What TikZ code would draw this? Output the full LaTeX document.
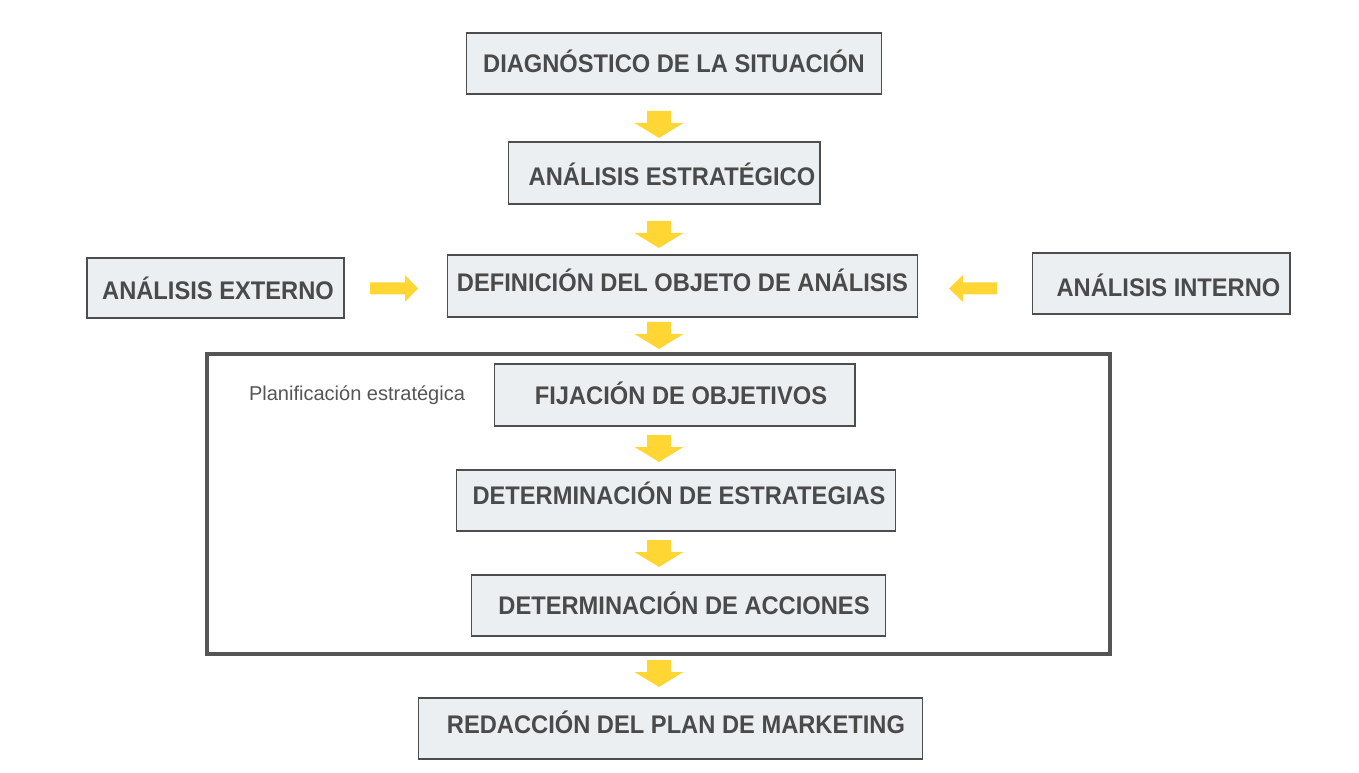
\documentclass[tikz,border=0pt]{standalone}
\usepackage{fontspec}
\setmainfont{Liberation Sans}
\newfontfamily\cajafont[FakeStretch=0.93]{Liberation Sans}
\definecolor{amarillo}{HTML}{FFD633}
\definecolor{fondocaja}{HTML}{ECEFF1}
\definecolor{bordecaja}{HTML}{4D4D4D}
\definecolor{textocaja}{HTML}{4A4A4A}
\definecolor{marcogris}{HTML}{555555}

% flechas amarillas (x centro / y arriba, en px)
\newcommand{\flechaabajo}[2]{\fill[amarillo] (#1-12,#2) -- (#1+12,#2) -- (#1+12,#2+12) -- (#1+24.5,#2+12) -- (#1,#2+27) -- (#1-24.5,#2+12) -- (#1-12,#2+12) -- cycle;}
\newcommand{\flechader}[2]{\fill[amarillo] (#1,#2-6) -- (#1+35,#2-6) -- (#1+35,#2-13.5) -- (#1+48,#2) -- (#1+35,#2+13.5) -- (#1+35,#2+6) -- (#1,#2+6) -- cycle;}
\newcommand{\flechaizq}[2]{\fill[amarillo] (#1,#2) -- (#1+14,#2-13.5) -- (#1+14,#2-6) -- (#1+48,#2-6) -- (#1+48,#2+6) -- (#1+14,#2+6) -- (#1+14,#2+13.5) -- cycle;}

\tikzset{
  caja/.style={draw=bordecaja, line width=0.6pt, fill=fondocaja, text=textocaja,
    font=\cajafont\bfseries\fontsize{14.5}{17}\selectfont, inner sep=0pt,
    text height=10.4pt, text depth=0pt}
}

\begin{document}
\begin{tikzpicture}[x=0.02cm, y=-0.02cm]
    \useasboundingbox (0,0) rectangle (1359,773);
    % marco de la planificacion
    \node[draw=marcogris, line width=2.6pt, minimum width=18.06cm, minimum height=6cm] (marco) at (658.5,504) {};
    \node[font=\fontsize{11.4}{13}\selectfont, text=marcogris] (plan) at (357,395) {Planificación estratégica};
    % cajas
    \node[caja, minimum width=8.32cm, minimum height=1.22cm] (diag) at (674,63.5) {DIAGNÓSTICO DE LA SITUACIÓN};
    \node[caja, minimum width=6.24cm, minimum height=1.24cm] (estr) at (664,173) {\hspace*{0.32cm}\raisebox{-1.7pt}{ANÁLISIS ESTRATÉGICO}};
    \node[caja, minimum width=9.42cm, minimum height=1.24cm] (defi) at (682.5,286) {\raisebox{2.3pt}{DEFINICIÓN DEL OBJETO DE ANÁLISIS}};
    \node[caja, minimum width=5.14cm, minimum height=1.2cm] (exte) at (215.5,288) {\hspace*{0.1cm}\raisebox{-1.1pt}{ANÁLISIS EXTERNO}};
    \node[caja, minimum width=5.16cm, minimum height=1.22cm] (inte) at (1161,283.5) {\hspace*{0.3cm}\raisebox{-2.3pt}{ANÁLISIS INTERNO}};
    \node[caja, minimum width=7.22cm, minimum height=1.24cm] (fija) at (674.5,395) {\hspace*{0.26cm}FIJACIÓN DE OBJETIVOS};
    \node[caja, minimum width=8.8cm, minimum height=1.22cm] (estra) at (676,500.5) {\hspace*{0.12cm}\raisebox{2.8pt}{DETERMINACIÓN DE ESTRATEGIAS}};
    \node[caja, minimum width=8.3cm, minimum height=1.22cm] (acci) at (678.5,605.5) {\hspace*{0.22cm}DETERMINACIÓN DE ACCIONES};
    \node[caja, minimum width=10.1cm, minimum height=1.22cm] (reda) at (670.5,728.5) {\hspace*{0.22cm}\raisebox{2.3pt}{REDACCIÓN DEL PLAN DE MARKETING}};
    % flechas
    \flechaabajo{659}{111}
    \flechaabajo{659}{221}
    \flechaabajo{659}{322}
    \flechaabajo{659}{435}
    \flechaabajo{659}{540}
    \flechaabajo{659}{660}
    \flechader{370}{288.5}
    \flechaizq{949}{288.5}
\end{tikzpicture}
\end{document}
